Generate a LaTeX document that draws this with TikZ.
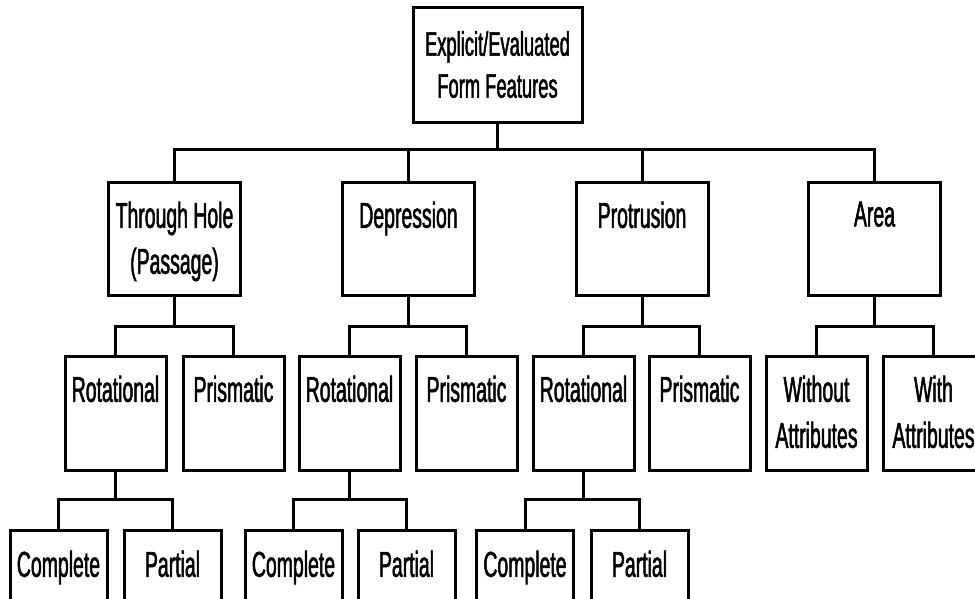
\documentclass[tikz,border=0pt]{standalone}
\usepackage{fontspec}
\setmainfont{Liberation Sans}[FakeStretch=0.54,FakeBold=1.4]
\begin{document}
\begin{tikzpicture}[x=1pt,y=-1pt,
  box/.style={draw=black,line width=3pt,rectangle,inner sep=0pt,fill=white},
  lvltwo/.style={box,minimum width=132pt,minimum height=113pt},
  lvlthree/.style={box,minimum width=101pt,minimum height=114pt},
  lvlfour/.style={box,minimum width=97pt,minimum height=110pt},
  lbl/.style={anchor=north,inner sep=0pt,align=center,
    font=\fontsize{36}{46}\selectfont},
  link/.style={draw=black,line width=3pt,line cap=rect}
]
\useasboundingbox (0,0) rectangle (975,598);
\clip (0,0) rectangle (975,598);

% root
\node[box,minimum width=169pt,minimum height=115pt,align=center,
  font=\fontsize{34}{42}\selectfont] (root) at (497.5,64.5)
  {Explicit/Evaluated\\Form Features};

% feature classes
\node[lvltwo] (th)   at (174.5,238.5) {};
\node[lvltwo] (dep)  at (408.5,238.5) {};
\node[lvltwo] (prot) at (642,238.5) {};
\node[lvltwo] (area) at (874.5,238.5) {};

% sub-classes
\node[lvlthree] (throt) at (115.5,413) {};
\node[lvlthree] (thpri) at (233.5,413) {};
\node[lvlthree] (deprot) at (349.5,413) {};
\node[lvlthree] (deppri) at (466.5,413) {};
\node[lvlthree] (protrot) at (583.5,413) {};
\node[lvlthree] (protpri) at (699.5,413) {};
\node[lvlthree] (areawo) at (816.5,413) {};
\node[lvlthree] (areaw) at (933.5,413) {};

% rotational variants
\node[lvlfour] (thcom) at (58.5,585) {};
\node[lvlfour] (thpar) at (172.5,585) {};
\node[lvlfour] (depcom) at (293.5,585) {};
\node[lvlfour] (deppar) at (406.5,585) {};
\node[lvlfour] (protcom) at (525,585) {};
\node[lvlfour] (protpar) at (639.5,585) {};

% labels, hung from the top edge of each box
\node[lbl] (tthrough) at ([yshift=-21pt]th.north) {Through Hole\\(Passage)};
\node[lbl] (tdep) at ([yshift=-21pt]dep.north) {Depression};
\node[lbl] (tprot) at ([yshift=-21pt]prot.north) {Protrusion};
\node[lbl] (tarea) at ([yshift=-21pt]area.north) {Area};
\foreach \n in {throt,deprot,protrot}
  \node[lbl] (t\n) at ([yshift=-21pt]\n.north) {Rotational};
\foreach \n in {thpri,deppri,protpri}
  \node[lbl] (t\n) at ([yshift=-21pt]\n.north) {Prismatic};
\node[lbl] (tareawo) at ([yshift=-21pt]areawo.north) {Without\\Attributes};
\node[lbl] (tareaw) at ([yshift=-21pt]areaw.north) {With\\Attributes};
\foreach \n in {thcom,depcom,protcom}
  \node[lbl] (t\n) at ([yshift=-22pt]\n.north) {Complete};
\foreach \n in {thpar,deppar,protpar}
  \node[lbl] (t\n) at ([yshift=-22pt]\n.north) {Partial};

% connectors: root to feature classes
\coordinate (busa) at (root.south |- 0,149);
\draw[link] (root.south) -- (busa);
\draw[link] (th.north) |- (busa) -| (area.north);
\draw[link] (dep.north) -- (dep.north |- busa);
\draw[link] (prot.north) -- (prot.north |- busa);

% feature classes to sub-classes
\foreach \p/\l/\r in {th/throt/thpri, dep/deprot/deppri,
                      prot/protrot/protpri, area/areawo/areaw} {
  \coordinate (b\p) at (\p.south |- 0,326);
  \draw[link] (\p.south) -- (b\p);
  \draw[link] (\l.north) |- (b\p) -| (\r.north);
}

% rotational sub-classes to variants
\foreach \p/\l/\r in {throt/thcom/thpar, deprot/depcom/deppar,
                      protrot/protcom/protpar} {
  \coordinate (b\p) at (\p.south |- 0,499);
  \draw[link] (\p.south) -- (b\p);
  \draw[link] (\l.north) |- (b\p) -| (\r.north);
}
\end{tikzpicture}
\end{document}
